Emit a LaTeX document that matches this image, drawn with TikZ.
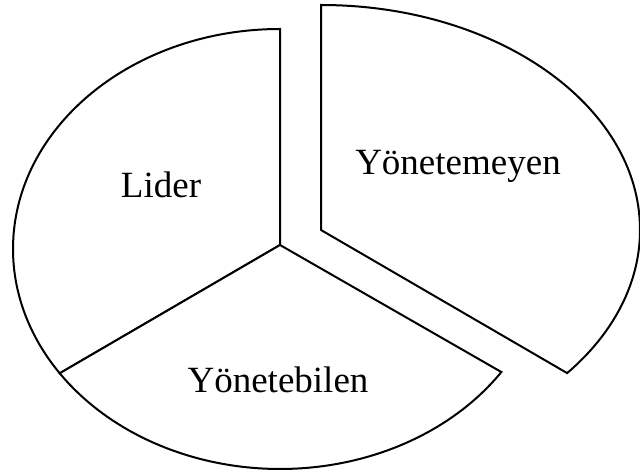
\documentclass[tikz,border=0pt]{standalone}
\usepackage{fontspec}
\setmainfont{Liberation Serif}
\usetikzlibrary{calc}
\begin{document}
\begin{tikzpicture}[x=1pt,y=1pt,
  slice/.style={draw=black,line width=2pt,line join=miter,fill=white},
  lbl/.style={anchor=base,inner sep=0pt,font=\fontsize{37}{44}\selectfont}]
\useasboundingbox (0,0) rectangle (640,474);
% main pie
\coordinate (E) at (280,225);
\coordinate (V) at (280,229);
\coordinate (T) at ($(E)+(90:267 and 220)$);
\coordinate (L) at ($(E)+(214.4:267 and 220)$);
\coordinate (R) at ($(E)+(326:267 and 220)$);
\draw[slice] (V) -- (T) arc[start angle=90,end angle=214.4,x radius=267,y radius=220] -- cycle;
\draw[slice] (V) -- (L) arc[start angle=214.4,end angle=326,x radius=267,y radius=220] -- cycle;
% exploded slice
\coordinate (V2) at (321,244);
\coordinate (T2) at ($(V2)+(90:319 and 225)$);
\draw[slice] (V2) -- (T2) arc[start angle=90,end angle=-39.5,x radius=319,y radius=225] -- cycle;
% labels
\node[lbl] (lider) at (161,276) {Lider};
\node[lbl] (yem) at (458,299) {Yönetemeyen};
\node[lbl] (yeb) at (278,81) {Yönetebilen};
\end{tikzpicture}
\end{document}
